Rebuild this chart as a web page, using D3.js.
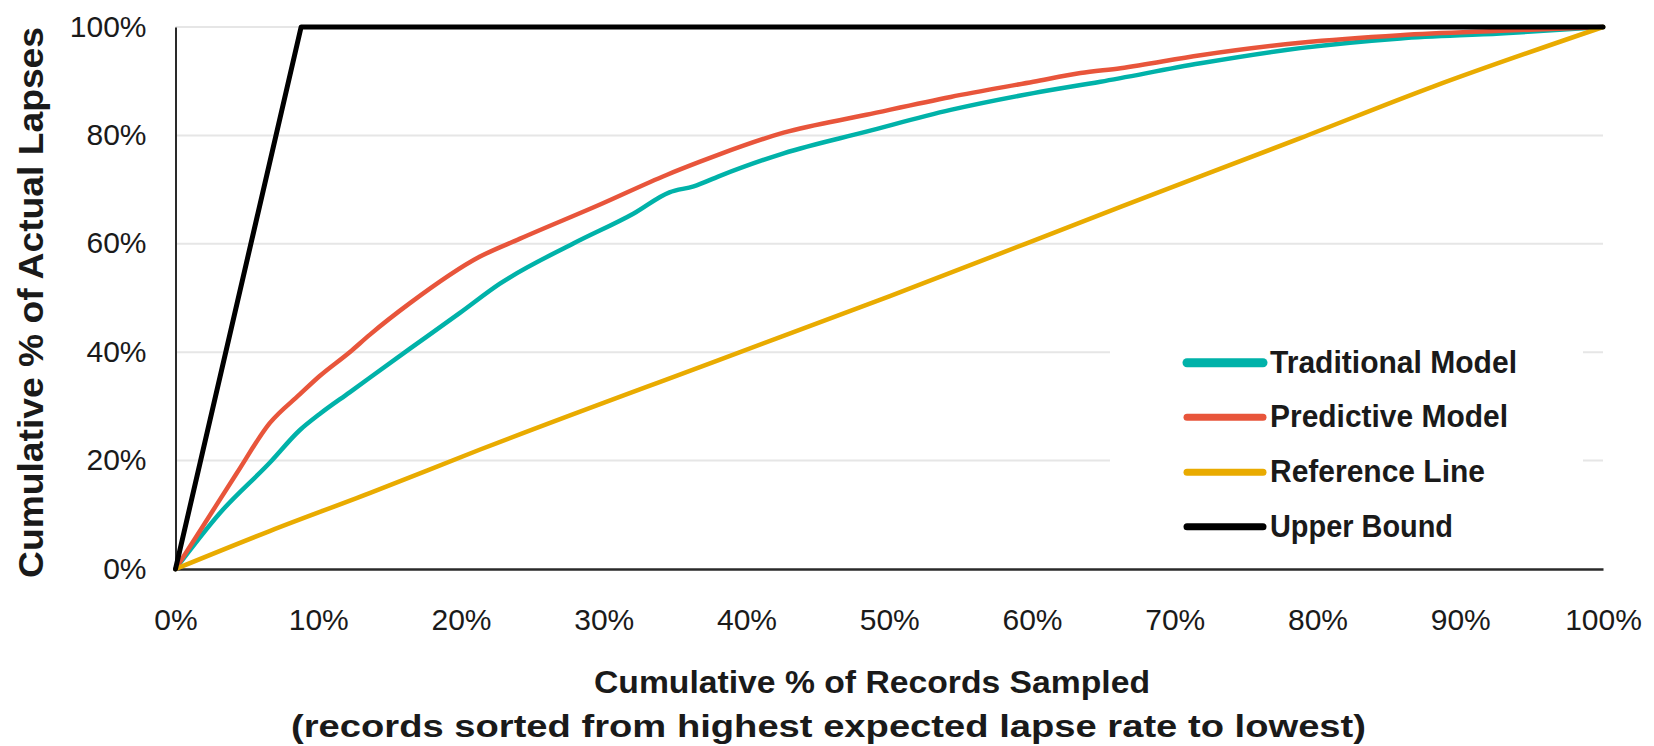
<!DOCTYPE html>
<html>
<head>
<meta charset="utf-8">
<script src="https://cdn.jsdelivr.net/npm/d3@7"></script>
<style>
  html, body { margin: 0; padding: 0; background: #fff; }
  svg { display: block; }
  text { font-family: "Liberation Sans", Arial, sans-serif; fill: #1a1a1a; }
</style>
</head>
<body>
<svg id="chart" width="1654" height="746"></svg>
<script>
// ---- data (cumulative % of records sampled, cumulative % of actual lapses) ----
const traditionalModel = [
  [0,0],[3.1,10.3],[6.6,19.6],[8.7,25.6],[10.1,28.6],[12.2,32.6],[16.4,40.6],[19.9,47.2],
  [22.7,52.6],[27.9,60.1],[32.1,65.6],[34.6,69.5],[36.3,70.6],[38.1,72.5],[42.6,76.7],
  [48.4,80.7],[54.3,84.7],[60.1,87.8],[64.8,89.9],[71.8,93.3],[78.8,96.1],[85.8,97.9],
  [92.8,98.8],[100,100]
];
const predictiveModel = [
  [0,0],[1.9,7.8],[4.3,17.7],[6.6,26.9],[8.7,32.2],[10.1,35.6],[12.2,40.0],
  [13.6,43.2],[16.4,49.0],[21.3,57.6],[24.1,60.9],[29.7,67.2],[34.4,72.7],[36.7,75.1],
  [38.1,76.5],[42.6,80.5],[48.4,83.8],[54.3,87.1],[60.1,89.9],[63.4,91.5],[66.2,92.4],
  [71.8,94.8],[78.8,97.1],[85.8,98.5],[92.8,99.3],[100,100]
];
const referenceLine = [
  [0,0],[6.6,7.0],[13.6,14.0],[21.3,22.0],[38.1,38.6],[50,50.3],[66.2,66.8],[78.8,79.5],[88.1,89.0],[100,100]
];
const upperBound = [[0,0],[8.8,100],[100,100]];

const xTicks = [0,10,20,30,40,50,60,70,80,90,100];
const yTicks = [0,20,40,60,80,100];
const tickLabel = v => v + "%";

const seriesNames = ["Traditional Model","Predictive Model","Reference Line","Upper Bound"];
const seriesColors = ["#00B2A9","#E8553B","#E9AB00","#000000"];

// ---- layout ----
const svg = d3.select("#chart");
const x = d3.scaleLinear().domain([0,100]).range([175.5,1603]);
const y = d3.scaleLinear().domain([0,100]).range([569,27]);

// gridlines
svg.append("g").selectAll("line").data(yTicks.filter(d => d > 0)).join("line")
  .attr("x1", x(0)).attr("x2", x(100))
  .attr("y1", d => y(d)).attr("y2", d => y(d))
  .attr("stroke", "#e6e6e6").attr("stroke-width", 2);

// legend background (hides gridlines)
svg.append("rect").attr("x", 1110).attr("y", 330).attr("width", 473).attr("height", 230).attr("fill", "#fff");

// axes
const xAxis = d3.axisBottom(x).tickValues(xTicks).tickFormat(tickLabel).tickSize(0).tickPadding(0);
const gx = svg.append("g").attr("transform", `translate(0,${y(0)})`).call(xAxis);
gx.select(".domain").attr("stroke", "#2a2a2a").attr("stroke-width", 2.5);
gx.selectAll("text").attr("font-size", 30).attr("dy", null).attr("y", 61)
  .attr("font-family", '"Liberation Sans", Arial, sans-serif').attr("fill", "#1a1a1a");

const yAxis = d3.axisLeft(y).tickValues(yTicks).tickFormat(tickLabel).tickSize(0).tickPadding(0);
const gy = svg.append("g").attr("transform", `translate(${x(0)},0)`).call(yAxis);
gy.select(".domain").attr("stroke", "#2a2a2a").attr("stroke-width", 2);
gy.selectAll("text").attr("font-size", 30).attr("dy", null).attr("x", -29).attr("y", 9)
  .attr("font-family", '"Liberation Sans", Arial, sans-serif').attr("fill", "#1a1a1a");

// lines
const line = d3.line().x(d => x(d[0])).y(d => y(d[1])).curve(d3.curveMonotoneX);
const straight = d3.line().x(d => x(d[0])).y(d => y(d[1]));
const data = [traditionalModel, predictiveModel, referenceLine, upperBound];
data.forEach((s, i) => {
  svg.append("path").datum(s)
    .attr("d", i === 3 ? straight : line)
    .attr("fill", "none")
    .attr("stroke", seriesColors[i])
    .attr("stroke-width", i === 3 ? 5 : 4.5)
    .attr("stroke-linejoin", "round")
    .attr("stroke-linecap", "round");
});

// legend
const legendY = [362.7, 417.3, 472.3, 526.7];
const legendW = [247, 238, 215, 183];
const lg = svg.append("g");
seriesNames.forEach((name, i) => {
  lg.append("line").attr("x1", 1187).attr("x2", 1263)
    .attr("y1", legendY[i]).attr("y2", legendY[i])
    .attr("stroke", seriesColors[i]).attr("stroke-width", i === 0 ? 9 : 7)
    .attr("stroke-linecap", "round");
  lg.append("text").attr("x", 1270).attr("y", legendY[i] + 10)
    .attr("font-size", 31).attr("font-weight", "bold")
    .attr("textLength", legendW[i]).attr("lengthAdjust", "spacingAndGlyphs")
    .text(name);
});

// axis titles
svg.append("text").attr("x", 594).attr("y", 693)
  .attr("font-size", 31).attr("font-weight", "bold")
  .attr("textLength", 556).attr("lengthAdjust", "spacingAndGlyphs")
  .text("Cumulative % of Records Sampled");
svg.append("text").attr("x", 291).attr("y", 737)
  .attr("font-size", 31).attr("font-weight", "bold")
  .attr("textLength", 1075).attr("lengthAdjust", "spacingAndGlyphs")
  .text("(records sorted from highest expected lapse rate to lowest)");
svg.append("text")
  .attr("transform", "translate(43,578) rotate(-90)")
  .attr("x", 0).attr("y", 0)
  .attr("font-size", 35).attr("font-weight", "bold")
  .attr("textLength", 551).attr("lengthAdjust", "spacingAndGlyphs")
  .text("Cumulative % of Actual Lapses");
</script>
</body>
</html>
